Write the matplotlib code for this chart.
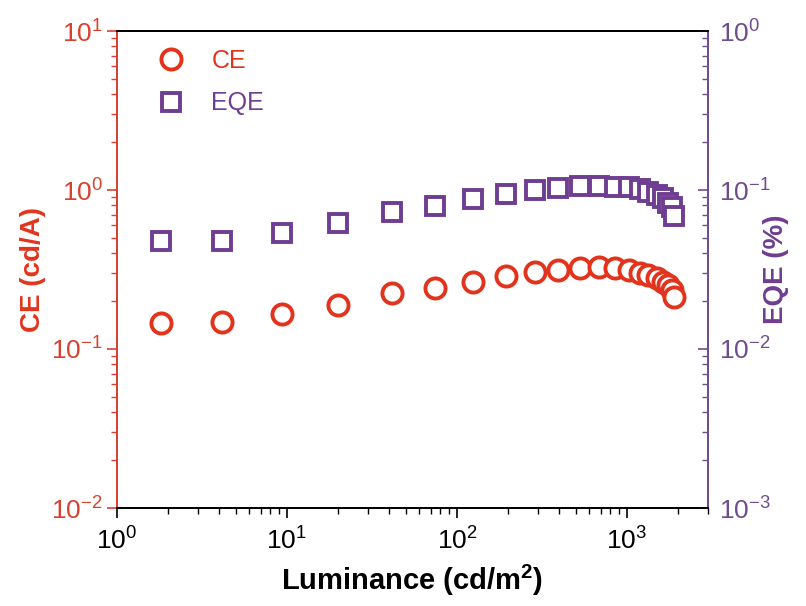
import matplotlib

matplotlib.use("Agg")
import matplotlib.pyplot as plt
from matplotlib.ticker import LogLocator, NullFormatter

# luminance (cd/m^2) and efficiencies
luminance = [1.81, 4.16, 9.35, 20.0, 41.3, 74.3, 124, 194, 288, 394, 530,
             688, 849, 1031, 1192, 1334, 1496, 1636, 1750, 1833, 1890]
ce = [0.145, 0.147, 0.166, 0.189, 0.224, 0.243, 0.265, 0.288, 0.306, 0.314,
      0.322, 0.327, 0.322, 0.314, 0.302, 0.292, 0.279, 0.265, 0.253, 0.235,
      0.211]
eqe = [0.048, 0.048, 0.0534, 0.0618, 0.0731, 0.0793, 0.0875, 0.094, 0.100,
       0.1025, 0.106, 0.106, 0.105, 0.104, 0.101, 0.0976, 0.093, 0.0887,
       0.0832, 0.0785, 0.0686]

RED = "#E2341D"
RED_AX = "#D9412F"
PURPLE = "#6F3D91"
PURPLE_AX = "#6E4C8E"

plt.rcParams.update({
    "font.family": ["Liberation Sans", "DejaVu Sans"],
    "mathtext.fontset": "custom",
    "mathtext.rm": "Liberation Sans",
    "mathtext.it": "Liberation Sans:italic",
    "mathtext.bf": "Liberation Sans:bold",
    "axes.unicode_minus": False,
})

fig = plt.figure(figsize=(8.06, 6.06), dpi=100)
ax1 = fig.add_axes([117 / 806, 1 - 508 / 606, (708 - 117) / 806, (508 - 31) / 606])
ax2 = ax1.twinx()

l1, = ax1.plot(luminance, ce, "o", ms=14.5, mfc="white", mec=RED, mew=2.8,
               ls="none", label="CE")
l2, = ax2.plot(luminance, eqe, "s", ms=12.5, mfc="white", mec=PURPLE, mew=2.8,
               ls="none", label="EQE")

for ax in (ax1, ax2):
    ax.set_xscale("log")
    ax.set_yscale("log")
ax1.set_xlim(1, 3000)
ax1.set_ylim(1e-2, 10)
ax2.set_ylim(1e-3, 1)

for ax in (ax1, ax2):
    for s in ax.spines.values():
        s.set_linewidth(1.3)
    ax.spines["left"].set_color(RED_AX)
    ax.spines["right"].set_color(PURPLE_AX)
    ax.spines["top"].set_color("black")
    ax.spines["bottom"].set_color("black")

ax1.tick_params(axis="x", which="major", direction="out", length=7, width=1.2,
                labelsize=19, pad=7, top=False, colors="black")
ax1.tick_params(axis="x", which="minor", direction="out", length=4, width=1.0,
                top=False)
ax1.tick_params(axis="y", which="major", direction="out", length=7, width=1.2,
                labelsize=19, colors=RED_AX, pad=3)
ax1.tick_params(axis="y", which="minor", direction="out", length=4, width=1.0,
                colors=RED_AX)
ax2.tick_params(axis="y", which="major", direction="in", length=7, width=1.2,
                labelsize=19, colors=PURPLE_AX, pad=8)
ax2.tick_params(axis="y", which="minor", direction="in", length=4, width=1.0,
                colors=PURPLE_AX)

for ax in (ax1, ax2):
    ax.yaxis.set_minor_locator(LogLocator(base=10, subs=range(2, 10), numticks=20))
    ax.yaxis.set_minor_formatter(NullFormatter())
ax1.xaxis.set_minor_locator(LogLocator(base=10, subs=range(2, 10), numticks=20))
ax1.xaxis.set_minor_formatter(NullFormatter())

ax1.set_xlabel("Luminance (cd/m$^\\mathbf{2}$)", fontsize=21, fontweight="bold",
               labelpad=6)
ax1.set_ylabel("CE (cd/A)", fontsize=20, fontweight="bold", color=RED,
               labelpad=4)
ax2.set_ylabel("EQE (%)", fontsize=20, fontweight="bold", color=PURPLE,
               labelpad=-6)

leg = ax1.legend(handles=[l1, l2], loc="upper left", frameon=False,
                 fontsize=18, handletextpad=0.6, borderaxespad=0.3,
                 labelspacing=0.75, bbox_to_anchor=(0.02, 1.0))
leg.get_texts()[0].set_color(RED)
leg.get_texts()[1].set_color(PURPLE)

fig.savefig("out.png", dpi=100)
